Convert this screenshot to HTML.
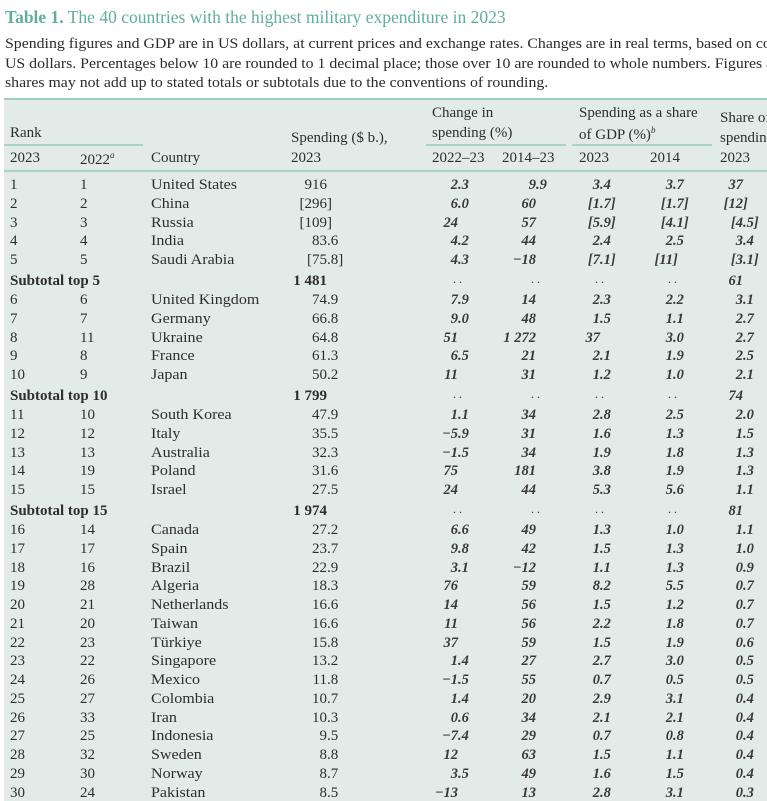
<!DOCTYPE html>
<html><head><meta charset="utf-8">
<style>
body{margin:0;width:767px;height:801px;overflow:hidden;background:#fff;font-family:"Liberation Serif",serif;color:#2e2e2e;position:relative}
#clip{position:absolute;left:0;top:0;width:767px;height:801px;overflow:hidden}
.a{position:absolute;white-space:nowrap}
#title{left:5px;top:7px;font-size:17.5px;color:#5fae9f}
.desc{left:5px;font-size:15px;color:#2b2b2b;transform-origin:0 0;transform:scaleX(1.055)}
#tbl{position:absolute;left:4px;top:98px;width:763px;height:703px;background:#e2ebe8;border-top:2px solid #9ccfc3}
.h{font-size:15px;color:#2e2e2e}
.ln{position:absolute;height:2px;background:#a8d3c9}
.c{position:absolute;font-size:14.5px;line-height:18px;white-space:nowrap}
.t{font-size:15px}
.n{font-style:italic;font-weight:bold;color:#3a3a3a}
.b{font-weight:bold}
</style></head><body>
<div id="clip">
<div class="a" id="title"><b>Table 1.</b> The 40 countries with the highest military expenditure in 2023</div>
<div class="a desc" style="top:36px">Spending figures and GDP are in US dollars, at current prices and exchange rates. Changes are in real terms, based on co</div>
<div class="a desc" style="top:56px">US dollars. Percentages below 10 are rounded to 1 decimal place; those over 10 are rounded to whole numbers. Figures an</div>
<div class="a desc" style="top:75px">shares may not add up to stated totals or subtotals due to the conventions of rounding.</div>
<div id="tbl"></div>
<div class="ln" style="left:4px;width:139px;top:144px"></div>
<div class="ln" style="left:426px;width:140px;top:144px"></div>
<div class="ln" style="left:572px;width:140px;top:144px"></div>
<div class="ln" style="left:4px;width:763px;top:170px"></div>
<div class="a h" style="left:10px;top:125px">Rank</div>
<div class="a h" style="left:10px;top:150px">2023</div>
<div class="a h" style="left:80px;top:150px">2022<sup style="font-style:italic;font-size:9px">a</sup></div>
<div class="a h" style="left:151px;top:150px">Country</div>
<div class="a h" style="left:291px;top:130px">Spending ($ b.),</div>
<div class="a h" style="left:291px;top:150px">2023</div>
<div class="a h" style="left:432px;top:105px">Change in</div>
<div class="a h" style="left:432px;top:125px">spending (%)</div>
<div class="a h" style="left:432px;top:150px">2022–23</div>
<div class="a h" style="left:502px;top:150px">2014–23</div>
<div class="a h" style="left:579px;top:105px">Spending as a share</div>
<div class="a h" style="left:579px;top:125px">of GDP (%)<sup style="font-style:italic;font-size:9px">b</sup></div>
<div class="a h" style="left:579px;top:150px">2023</div>
<div class="a h" style="left:650px;top:150px">2014</div>
<div class="a h" style="left:720px;top:110px">Share of</div>
<div class="a h" style="left:720px;top:130px">spending</div>
<div class="a h" style="left:720px;top:150px">2023</div>
<div id="rows"></div>
</div>
<script>
const ranks23=["1","2","3","4","5","S5","6","7","8","9","10","S10","11","12","13","14","15","S15","16","17","18","19","20","21","22","23","24","25","26","27","28","29","30"];
const ranks22=["1","2","3","4","5","","6","7","11","8","9","","10","12","13","19","15","","14","17","16","28","21","20","23","22","26","27","33","25","32","30","24"];
const countries=["United States","China","Russia","India","Saudi Arabia","Subtotal top 5","United Kingdom","Germany","Ukraine","France","Japan","Subtotal top 10","South Korea","Italy","Australia","Poland","Israel","Subtotal top 15","Canada","Spain","Brazil","Algeria","Netherlands","Taiwan","Türkiye","Singapore","Mexico","Colombia","Iran","Indonesia","Sweden","Norway","Pakistan"];
const spending=["916","[296]","[109]","83.6","[75.8]","1 481","74.9","66.8","64.8","61.3","50.2","1 799","47.9","35.5","32.3","31.6","27.5","1 974","27.2","23.7","22.9","18.3","16.6","16.6","15.8","13.2","11.8","10.7","10.3","9.5","8.8","8.7","8.5"];
const change1=["2.3","6.0","24","4.2","4.3","..","7.9","9.0","51","6.5","11","..","1.1","−5.9","−1.5","75","24","..","6.6","9.8","3.1","76","14","11","37","1.4","−1.5","1.4","0.6","−7.4","12","3.5","−13"];
const change10=["9.9","60","57","44","−18","..","14","48","1 272","21","31","..","34","31","34","181","44","..","49","42","−12","59","56","56","59","27","55","20","34","29","63","49","13"];
const gdp23=["3.4","[1.7]","[5.9]","2.4","[7.1]","..","2.3","1.5","37","2.1","1.2","..","2.8","1.6","1.9","3.8","5.3","..","1.3","1.5","1.1","8.2","1.5","2.2","1.5","2.7","0.7","2.9","2.1","0.7","1.5","1.6","2.8"];
const gdp14=["3.7","[1.7]","[4.1]","2.5","[11]","..","2.2","1.1","3.0","1.9","1.0","..","2.5","1.3","1.8","1.9","5.6","..","1.0","1.3","1.3","5.5","1.2","1.8","1.9","3.0","0.5","3.1","2.1","0.8","1.1","1.5","3.1"];
const share=["37","[12]","[4.5]","3.4","[3.1]","61","3.1","2.7","2.7","2.5","2.1","74","2.0","1.5","1.3","1.3","1.1","81","1.1","1.0","0.9","0.7","0.7","0.7","0.6","0.5","0.5","0.4","0.4","0.4","0.4","0.4","0.3"];
const cont=document.getElementById('rows');
function put(x,y,txt,cls,name){
  const d=document.createElement('div');
  d.className='c '+cls;
  d.style.left=x+'px';d.style.top=(y-8)+'px';
  d.textContent=txt;
  
  
  cont.appendChild(d);return d;
}
function dec(px,y,v,cls,name){
  if(v===".."){const d=put(px-5,y-2,". .",'',name);d.style.fontSize='12px';return;}
  let i=v.indexOf('.');let ip,fp;
  if(i<0){let m=v.match(/^(.*?)(\]?)$/);ip=m[1];fp=m[2];}else{ip=v.slice(0,i);fp=v.slice(i);}
  const a=put(0,y,ip,cls,name);a.style.left='auto';a.style.right=(767-px)+'px';
  if(fp){put(px,y,fp,cls,name+'-fraction');}
}
let y=184;
for(let k=0;k<countries.length;k++){
  const sub=ranks23[k][0]==='S';
  if(k>0){y+= (sub||ranks23[k-1][0]==='S')?(sub?21:19):18.75;}
  if(sub){put(10,y,countries[k],'b t','subtotal-label');}
  else{
    put(10,y,ranks23[k],'t','rank-2023');
    put(80,y,ranks22[k],'t','rank-2022');
    const c=put(151,y,countries[k],'t','country-name');
    c.style.transformOrigin='0 0';c.style.transform='scaleX(1.07)';
  }
  dec(327,y,spending[k],sub?'b t':'t','spending-value');
  dec(458,y,change1[k],'n','change-2022-23');
  dec(536,y,change10[k],'n','change-2014-23');
  dec(600,y,gdp23[k],'n','gdp-share-2023');
  dec(673,y,gdp14[k],'n','gdp-share-2014');
  dec(743,y,share[k],'n','world-share-2023');
}
</script>
</body></html>
